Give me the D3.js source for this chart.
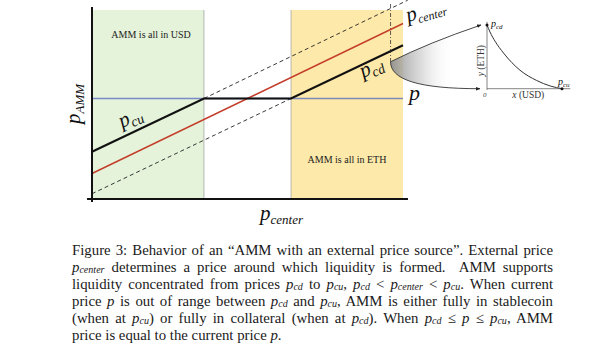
<!DOCTYPE html>
<html><head><meta charset="utf-8">
<script src="https://cdn.jsdelivr.net/npm/d3@7"></script>
<style>body{margin:0;background:#fff} svg{display:block}</style>
</head><body><svg id="c" width="600" height="360"></svg>
<script>
// ---------- data ----------
const pCenterDomain = [0, 10];
const pAmmDomain = [-1.7, 10.9];
const usdZone = [0, 3.6];
const ethZone = [6.4, 10];
const pLine = [[0, 5], [10, 5]];
const centerLine = [[0, 0], [10, 10]];
const ammLine = [[0, 1.45], [3.6, 5], [6.4, 5], [10, 8.55]];
const cuDashed = [[3.6, 5], [10.15, 11.55]];
const cdDashed = [[0, -1.35], [6.4, 5]];
const zoomMark = [[9.6, 11.3], [9.6, 7.45]];
const insetCurveX = [0, 0.04, 0.11, 0.22, 0.44, 0.66, 0.85, 1];
const insetCurveY = [1, 0.89, 0.74, 0.56, 0.29, 0.13, 0.04, 0];
const zoneLabels = ["AMM is all in USD", "AMM is all in ETH"];
const captionLines = [
  [["r", "Figure 3: Behavior of an \u201CAMM with an external price source\u201D. External price"]],
  [["i", "p"], ["s", "center"], ["r", " determines a price around which liquidity is formed.  AMM supports"]],
  [["r", "liquidity concentrated from prices "], ["i", "p"], ["s", "cd"], ["r", " to "], ["i", "p"], ["s", "cu"], ["r", ", "], ["i", "p"], ["s", "cd"], ["r", " < "], ["i", "p"], ["s", "center"], ["r", " < "], ["i", "p"], ["s", "cu"], ["r", ". When current"]],
  [["r", "price "], ["i", "p"], ["r", " is out of range between "], ["i", "p"], ["s", "cd"], ["r", " and "], ["i", "p"], ["s", "cu"], ["r", ", AMM is either fully in stablecoin"]],
  [["r", "(when at "], ["i", "p"], ["s", "cu"], ["r", ") or fully in collateral (when at "], ["i", "p"], ["s", "cd"], ["r", "). When "], ["i", "p"], ["s", "cd"], ["r", " \u2264 "], ["i", "p"], ["r", " \u2264 "], ["i", "p"], ["s", "cu"], ["r", ", AMM"]],
  [["r", "price is equal to the current price "], ["i", "p"], ["r", "."]]
];

// ---------- setup ----------
const svg = d3.select("#c");
const x = d3.scaleLinear().domain(pCenterDomain).range([92, 403]);
const y = d3.scaleLinear().domain(pAmmDomain).range([199, 10]);
const line = d3.line().x(d => x(d[0])).y(d => y(d[1]));
const serif = "'Liberation Serif', 'Times New Roman', serif";

const defs = svg.append("defs");
const grad = defs.append("linearGradient").attr("id", "fun").attr("x1", "0").attr("x2", "1").attr("y1", "0").attr("y2", "0");
grad.append("stop").attr("offset", "0").attr("stop-color", "#8f8f8f").attr("stop-opacity", 0.95);
grad.append("stop").attr("offset", "0.35").attr("stop-color", "#c8c8c8").attr("stop-opacity", 0.6);
grad.append("stop").attr("offset", "0.7").attr("stop-color", "#ffffff").attr("stop-opacity", 0);
defs.append("marker").attr("id", "arr").attr("viewBox", "0 0 10 10").attr("refX", 9).attr("refY", 5)
  .attr("markerWidth", 5).attr("markerHeight", 5).attr("orient", "auto")
  .append("path").attr("d", "M0,1 L10,5 L0,9 Z").attr("fill", "#222");

// zones
svg.append("rect").attr("x", x(usdZone[0])).attr("y", y(pAmmDomain[1])).attr("width", x(usdZone[1]) - x(usdZone[0]))
  .attr("height", y(pAmmDomain[0]) - y(pAmmDomain[1])).attr("fill", "#e5f3da");
svg.append("rect").attr("x", x(ethZone[0])).attr("y", y(pAmmDomain[1])).attr("width", x(ethZone[1]) - x(ethZone[0]))
  .attr("height", y(pAmmDomain[0]) - y(pAmmDomain[1])).attr("fill", "#fde9a9");
[usdZone[1], ethZone[0]].forEach(v => {
  svg.append("line").attr("x1", x(v)).attr("x2", x(v)).attr("y1", y(pAmmDomain[1])).attr("y2", y(pAmmDomain[0]))
    .attr("stroke", "#9c9c9c").attr("stroke-width", 0.7);
});

// lines
svg.append("path").attr("d", line(pLine)).attr("stroke", "#5468c0").attr("stroke-opacity", 0.75).attr("stroke-width", 1.5).attr("fill", "none");
svg.append("path").attr("d", line(centerLine)).attr("stroke", "#c43d2a").attr("stroke-width", 1.4).attr("fill", "none");
[cuDashed, cdDashed].forEach(d => {
  svg.append("path").attr("d", line(d)).attr("stroke", "#222").attr("stroke-width", 0.9)
    .attr("stroke-dasharray", "4,3").attr("fill", "none");
});
svg.append("path").attr("d", line(ammLine)).attr("stroke", "#111").attr("stroke-width", 2.2).attr("fill", "none");
svg.append("path").attr("d", line(zoomMark)).attr("stroke", "#333").attr("stroke-width", 0.8)
  .attr("stroke-dasharray", "4,2,1,2").attr("fill", "none");

// axes
svg.append("line").attr("x1", x(pCenterDomain[0])).attr("x2", x(pCenterDomain[0])).attr("y1", y(11.1)).attr("y2", y(-1.9))
  .attr("stroke", "#111").attr("stroke-width", 2);
svg.append("line").attr("x1", x(-0.16)).attr("x2", x(10.16)).attr("y1", y(pAmmDomain[0])).attr("y2", y(pAmmDomain[0]))
  .attr("stroke", "#111").attr("stroke-width", 2);

// zone labels
svg.append("text").attr("x", x(1.9)).attr("y", 38).attr("text-anchor", "middle").attr("font-family", serif)
  .attr("font-size", 10).attr("fill", "#222").text(zoneLabels[0]);
svg.append("text").attr("x", x(8.2)).attr("y", 163).attr("text-anchor", "middle").attr("font-family", serif)
  .attr("font-size", 10).attr("fill", "#222").text(zoneLabels[1]);

// math labels
function mathLabel(g, base, sub, size, subSize) {
  const t = g.append("text").attr("font-family", serif).attr("font-style", "italic").attr("fill", "#111");
  t.append("tspan").attr("font-size", size).text(base);
  if (sub) t.append("tspan").attr("font-size", subSize).attr("dy", size * 0.2).text(sub);
  return t;
}
mathLabel(svg, "p", "cu", 21, 14).attr("transform", "translate(122,128) rotate(-25)");
mathLabel(svg, "p", "cd", 21, 14).attr("transform", "translate(363,78) rotate(-25)");
mathLabel(svg, "p", "center", 21, 12).attr("transform", "translate(408,22) rotate(-16)");
mathLabel(svg, "p", null, 22).attr("transform", "translate(409,100)");
mathLabel(svg, "p", "AMM", 21, 13).attr("transform", "translate(80,124) rotate(-90)");
mathLabel(svg, "p", "center", 21, 13).attr("transform", "translate(260,220)");

// inset
const ix = d3.scaleLinear().domain([0, 1]).range([487, 562]);
const iy = d3.scaleLinear().domain([0, 1]).range([88.7, 25]);
const sx = x(zoomMark[1][0]), sy = y(zoomMark[1][1]);
const e1x = ix(0) - 6, e1y = iy(1), e2x = ix(0) - 7, e2y = iy(0);
const upper = `M${sx},${sy} Q${sx + 38},${sy - 19} ${e1x},${e1y}`;
const lower = `M${sx},${sy} C${sx},${sy + 18} ${sx + 28},${e2y} ${e2x},${e2y}`;
svg.append("path").attr("d", `M${sx},${sy} Q${sx + 38},${sy - 19} ${e1x},${e1y} L${e2x},${e2y} C${sx + 28},${e2y} ${sx},${sy + 18} ${sx},${sy} Z`)
  .attr("fill", "url(#fun)");
svg.append("path").attr("d", upper).attr("stroke", "#333").attr("stroke-width", 0.9).attr("fill", "none").attr("marker-end", "url(#arr)");
svg.append("path").attr("d", lower).attr("stroke", "#333").attr("stroke-width", 0.9).attr("fill", "none").attr("marker-end", "url(#arr)");

svg.append("line").attr("x1", ix(0)).attr("x2", ix(0)).attr("y1", iy(1.05)).attr("y2", iy(-0.02)).attr("stroke", "#666").attr("stroke-width", 0.8);
svg.append("line").attr("x1", ix(0)).attr("x2", ix(1.11)).attr("y1", iy(0)).attr("y2", iy(0)).attr("stroke", "#666").attr("stroke-width", 0.8);
const cpts = insetCurveX.map((v, i) => [v, insetCurveY[i]]);
svg.append("path").attr("d", d3.line().x(d => ix(d[0])).y(d => iy(d[1])).curve(d3.curveMonotoneX)(cpts))
  .attr("stroke", "#333").attr("stroke-width", 1).attr("fill", "none");
[[0, 1], [1, 0]].forEach(d => svg.append("circle").attr("cx", ix(d[0])).attr("cy", iy(d[1])).attr("r", 1.5).attr("fill", "#111"));
mathLabel(svg, "p", "cd", 10, 7).attr("transform", `translate(${ix(0) + 4},${iy(1) + 2})`);
mathLabel(svg, "p", "cu", 10, 7).attr("transform", `translate(${ix(1) - 4},${iy(0) - 4})`);
svg.append("text").attr("x", ix(0) - 4).attr("y", iy(0) + 8).attr("font-family", serif).attr("font-style", "italic")
  .attr("font-size", 7).attr("fill", "#444").text("0");
const xl = svg.append("text").attr("x", ix(0.55)).attr("y", iy(0) + 9).attr("text-anchor", "middle").attr("font-family", serif)
  .attr("font-size", 9.5).attr("fill", "#333");
xl.append("tspan").attr("font-style", "italic").text("x");
xl.append("tspan").text(" (USD)");
const yl = svg.append("text").attr("transform", `translate(${ix(0) - 3},${iy(0.44)}) rotate(-90)`).attr("text-anchor", "middle")
  .attr("font-family", serif).attr("font-size", 9.5).attr("fill", "#333");
yl.append("tspan").attr("font-style", "italic").text("y");
yl.append("tspan").text(" (ETH)");

// caption
const capX = 72, capW = 481, capFs = 14.8, subShift = 1.6;
captionLines.forEach((segs, li) => {
  const t = svg.append("text").attr("x", capX).attr("y", 254.5 + li * 17).attr("font-family", serif)
    .attr("font-size", capFs).attr("fill", "#1a1a1a").style("white-space", "pre");
  let shift = 0;
  segs.forEach(([k, s]) => {
    const ts = t.append("tspan").text(s);
    const target = k === "s" ? subShift : 0;
    if (target !== shift) { ts.attr("dy", target - shift); shift = target; }
    if (k !== "r") ts.attr("font-style", "italic");
    if (k === "s") ts.attr("font-size", capFs * 0.68);
  });
  if (li < captionLines.length - 1) {
    const w = t.node().getComputedTextLength();
    const spaces = segs.map(s => s[1]).join("").split(" ").length - 1;
    t.attr("word-spacing", (capW - w) / spaces);
  }
});
</script></body></html>
